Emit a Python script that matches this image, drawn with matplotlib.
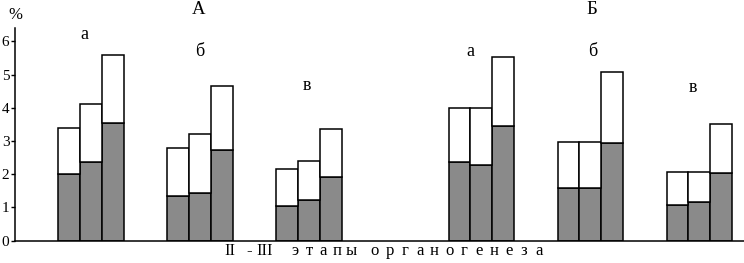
import numpy as np
import matplotlib.pyplot as plt

plt.rcParams['font.family'] = ['Liberation Serif', 'DejaVu Serif']

groups = ['а', 'б', 'в', 'а', 'б', 'в']
panels = ['А', 'Б']
# shaded (lower) part of each bar, and full bar height, in %
shaded = [
    [2.0, 2.37, 3.55],
    [1.35, 1.45, 2.72],
    [1.03, 1.22, 1.93],
    [2.38, 2.27, 3.45],
    [1.6, 1.6, 2.93],
    [1.06, 1.16, 2.03],
]
total = [
    [3.4, 4.1, 5.6],
    [2.8, 3.2, 4.65],
    [2.15, 2.4, 3.35],
    [4.0, 4.0, 5.54],
    [2.98, 2.98, 5.08],
    [2.07, 2.07, 3.52],
]
yticks = [0, 1, 2, 3, 4, 5, 6]

centers = np.array([0, 1, 2, 3.58, 4.58, 5.58])
w = 0.2

fig = plt.figure(figsize=(7.44, 2.63), dpi=100)
ax = fig.add_axes([15 / 744, 22.3 / 263, 729 / 744, 212.7 / 263])

for c, s, t in zip(centers, shaded, total):
    x = c + np.array([-w, 0, w])
    s = np.array(s)
    t = np.array(t)
    ax.bar(x, s, width=w, color='#8a8a8a', edgecolor='black', linewidth=1.1)
    ax.bar(x, t - s, bottom=s, width=w, color='white', edgecolor='black', linewidth=1.1)

ax.set_xlim(-0.697, 5.99)
ax.set_ylim(0, 6.4)
ax.set_yticks(yticks)
ax.set_xticks([])
ax.tick_params(axis='y', length=3, width=1, pad=1, labelsize=11)
for sp in ['top', 'right']:
    ax.spines[sp].set_visible(False)
ax.spines['left'].set_linewidth(1.1)
ax.spines['bottom'].set_linewidth(1.1)

# group letters
label_pos = [(-0.064, 6.06), (1.0, 5.56), (1.98, 4.54), (3.48, 5.56), (4.6, 5.56), (5.52, 4.46)]
for g, (x, y) in zip(groups, label_pos):
    ax.text(x, y, g, ha='center', va='baseline', fontsize=13)

fig.text(199 / 744, 1 - 10 / 263, panels[0], ha='center', va='center', fontsize=13.5)
fig.text(592 / 744, 1 - 9 / 263, panels[1], ha='center', va='center', fontsize=13.5)
fig.text(15 / 744, 1 - 15 / 263, '%', ha='center', va='center', fontsize=12)

# spaced-out axis caption
yb = 1 - 255 / 263
for xp, part in [(230, 'II'), (249, '-'), (264.5, 'III')]:
    fig.text(xp / 744, yb, part, ha='center', va='baseline', fontsize=12)
for i, ch in enumerate('этапы'):
    fig.text((295.5 + 14 * i) / 744, yb, ch, ha='center', va='baseline', fontsize=12)
for i, ch in enumerate('органогенеза'):
    fig.text((375 + 14.9 * i) / 744, yb, ch, ha='center', va='baseline', fontsize=12)

fig.savefig('out.png', dpi=100)
